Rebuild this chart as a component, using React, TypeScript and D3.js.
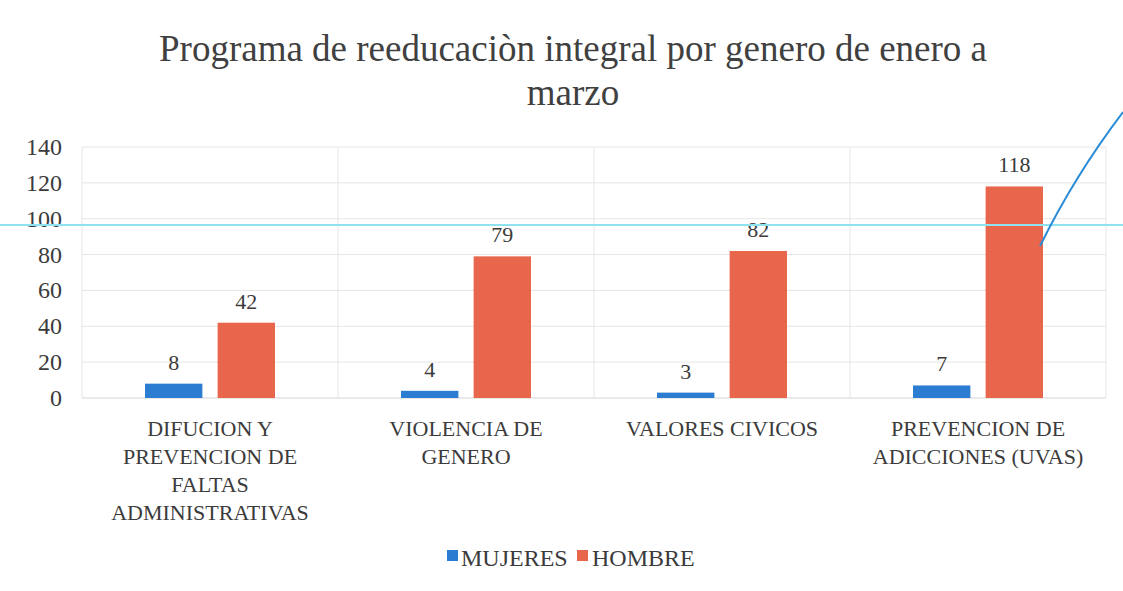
import * as d3 from 'd3';

const categories = [
  ['DIFUCION Y', 'PREVENCION DE', 'FALTAS', 'ADMINISTRATIVAS'],
  ['VIOLENCIA DE', 'GENERO'],
  ['VALORES CIVICOS'],
  ['PREVENCION DE', 'ADICCIONES (UVAS)'],
];
const series = ['MUJERES', 'HOMBRE'];
const mujeres = [8, 4, 3, 7];
const hombre = [42, 79, 82, 118];
const yTicks = [0, 20, 40, 60, 80, 100, 120, 140];
const colors = ['#2c7dd1', '#e8664b'];

const App = () => {
  const width = 1123;
  const height = 591;
  const left = 82;
  const right = 1106;
  const top = 147;
  const bottom = 398;
  const font = '"Liberation Serif", "Times New Roman", serif';
  const textColor = '#3b3b3b';

  const xScale = d3
    .scaleBand<number>()
    .domain(d3.range(categories.length))
    .range([left, right])
    .padding(0);
  const xInner = d3
    .scaleBand<string>()
    .domain(series)
    .range([63, xScale.bandwidth() - 63])
    .paddingInner(0.21);
  const yScale = d3.scaleLinear().domain([0, 140]).range([bottom, top]);

  const values = [mujeres, hombre];

  return (
    <svg
      width={width}
      height={height}
      style={{ position: 'absolute', left: 0, top: 0, background: '#fff' }}
      fontFamily={font}
    >
      {/* title */}
      <text x={573} y={61} textAnchor='middle' fontSize={37} fill='#404040'>
        Programa de reeducaciòn integral por genero de enero a
      </text>
      <text x={573} y={105} textAnchor='middle' fontSize={37} fill='#404040'>
        marzo
      </text>

      {/* grid */}
      {yTicks.map((t) => (
        <line
          key={'h' + t}
          x1={left}
          x2={right}
          y1={yScale(t)}
          y2={yScale(t)}
          stroke={t === 0 ? '#d4d4d4' : '#e6e6e6'}
          strokeWidth={1}
        />
      ))}
      {d3.range(categories.length + 1).map((i) => {
        const x = i < categories.length ? xScale(i)! : right;
        return (
          <line
            key={'v' + i}
            x1={x}
            x2={x}
            y1={top}
            y2={bottom}
            stroke='#e6e6e6'
          />
        );
      })}

      {/* y tick labels */}
      {yTicks.map((t) => (
        <text
          key={'yt' + t}
          x={62}
          y={yScale(t) + 8}
          textAnchor='end'
          fontSize={24}
          fill={textColor}
        >
          {t}
        </text>
      ))}

      {/* bars */}
      {categories.map((c, i) =>
        series.map((s, j) => {
          const v = values[j][i];
          const x = xScale(i)! + xInner(s)!;
          return (
            <g key={`b${i}-${j}`}>
              <rect
                x={x}
                y={yScale(v)}
                width={xInner.bandwidth()}
                height={yScale(0) - yScale(v)}
                fill={colors[j]}
              />
              <text
                x={x + xInner.bandwidth() / 2}
                y={yScale(v) - 14}
                textAnchor='middle'
                fontSize={22}
                fill={textColor}
              >
                {v}
              </text>
            </g>
          );
        })
      )}

      {/* category labels */}
      {categories.map((lines, i) => (
        <text
          key={'c' + i}
          x={xScale(i)! + xScale.bandwidth() / 2}
          textAnchor='middle'
          fontSize={22}
          fill={textColor}
        >
          {lines.map((l, k) => (
            <tspan
              key={k}
              x={xScale(i)! + xScale.bandwidth() / 2}
              y={436 + k * 28}
            >
              {l}
            </tspan>
          ))}
        </text>
      ))}

      {/* legend */}
      <g transform='translate(447, 566)'>
        <rect x={0} y={-16} width={11} height={11} fill={colors[0]} />
        <text x={14} y={0} fontSize={24} fill={textColor}>
          {series[0]}
        </text>
        <rect x={130} y={-16} width={11} height={11} fill={colors[1]} />
        <text x={145} y={0} fontSize={24} fill={textColor}>
          {series[1]}
        </text>
      </g>

      {/* pen marks on the scanned page */}
      <line x1={0} x2={width} y1={225} y2={225} stroke='#8fe3f0' strokeWidth={2} />
      <path
        d='M1040,246 Q1075,175 1123,112'
        fill='none'
        stroke='#2a8bd6'
        strokeWidth={2}
      />
    </svg>
  );
};

export default App;
